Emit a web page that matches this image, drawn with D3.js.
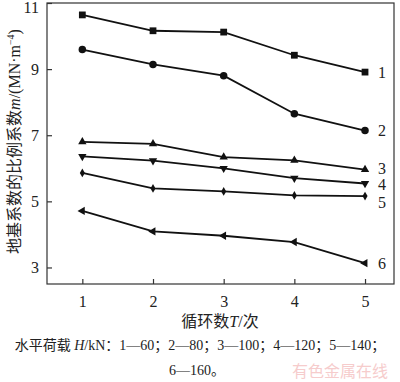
<!DOCTYPE html>
<html>
<head>
<meta charset="utf-8">
<script src="https://cdn.jsdelivr.net/npm/d3@7"></script>
<style>
body { margin: 0; background: #fff; }
text { font-family: "Liberation Serif", "Noto Sans CJK SC", serif; fill: #222; }
</style>
</head>
<body>
<script>
// cycles on the x axis
var cycles = [1, 2, 3, 4, 5];
// m values per load level
var s1 = [10.64, 10.16, 10.12, 9.42, 8.91];
var s2 = [9.59, 9.14, 8.80, 7.65, 7.14];
var s3 = [6.80, 6.74, 6.34, 6.24, 5.96];
var s4 = [6.36, 6.23, 6.00, 5.70, 5.54];
var s5 = [5.86, 5.39, 5.30, 5.18, 5.16];
var s6 = [4.71, 4.09, 3.96, 3.77, 3.13];
var seriesNames = ["1", "2", "3", "4", "5", "6"];
var yTicks = [3, 5, 7, 9, 11];

var W = 400, H = 382;
var padL = 47, padR = 394, padT = 3, padB = 284;		// plot frame edges

var svg = d3.select("body").append("svg")
	.attr("width", W)
	.attr("height", H);

var x = d3.scaleLinear().domain([0.5, 5.41]).range([padL, padR]);
var y = d3.scaleLinear().domain([2.5, 11]).range([padB, padT]);

// frame
svg.append("rect")
	.attr("x", padL).attr("y", padT)
	.attr("width", padR - padL).attr("height", padB - padT)
	.attr("fill", "none").attr("stroke", "#333").attr("stroke-width", 1.2);

var xAxis = svg.append("g")
	.attr("transform", "translate(0," + padB + ")")
	.call(d3.axisBottom(x).tickValues(cycles).tickSize(-5).tickPadding(12).tickFormat(d3.format("d")));
xAxis.select(".domain").remove();
xAxis.selectAll("line").attr("stroke", "#333").attr("stroke-width", 1.2);
xAxis.selectAll("text").style("font-size", "16px").attr("fill", "#222");

var yAxis = svg.append("g")
	.attr("transform", "translate(" + padL + ",0)")
	.call(d3.axisLeft(y).tickValues(yTicks).tickSize(-5).tickPadding(8));
yAxis.select(".domain").remove();
yAxis.selectAll("line").attr("stroke", "#333").attr("stroke-width", 1.2);
yAxis.selectAll("text").style("font-size", "16px").attr("fill", "#222")
	.attr("dy", function(d){ return d == 11 ? "0.62em" : "0.32em"; });

var all = [s1, s2, s3, s4, s5, s6];
var line = d3.line()
	.x(function(d, i){ return x(cycles[i]); })
	.y(function(d){ return y(d); });

var symbols = [
	d3.symbol().type(d3.symbolSquare).size(46),
	d3.symbol().type(d3.symbolCircle).size(44),
	d3.symbol().type(d3.symbolTriangle).size(30),
	d3.symbol().type(d3.symbolTriangle).size(30),
	d3.symbol().type(d3.symbolDiamond).size(22),
	d3.symbol().type(d3.symbolTriangle).size(30)
];
var rotate = [0, 0, 0, 180, 0, -90];
var labelShift = [0, 0, -1, 1, 6, 0];

all.forEach(function(s, k){
	svg.append("path")
		.attr("d", line(s))
		.attr("fill", "none")
		.attr("stroke", "#111")
		.attr("stroke-width", 1.8);

	svg.selectAll(".m" + k)
		.data(s)
	.enter().append("path")
		.attr("class", "m" + k)
		.attr("d", symbols[k])
		.attr("fill", "#111")
		.attr("transform", function(d, i){
			return "translate(" + x(cycles[i]) + "," + y(d) + ") rotate(" + rotate[k] + ")";
		});

	svg.append("text")
		.attr("x", x(5) + 13)
		.attr("y", y(s[4]) + 5.5 + labelShift[k])
		.style("font-size", "16px")
		.text(seriesNames[k]);
});

// y axis title
var yt = svg.append("text")
	.attr("transform", "translate(20," + ((padT + padB) / 2 - 2) + ") rotate(-90)")
	.attr("text-anchor", "middle")
	.style("font-size", "16px");
yt.append("tspan").text("地基系数的比例系数");
yt.append("tspan").style("font-style", "italic").text("m");
yt.append("tspan").text("/(MN·m");
yt.append("tspan").attr("dy", -6).style("font-size", "10px").text("−4");
yt.append("tspan").attr("dy", 6).text(")");

// x axis title
var xt = svg.append("text")
	.attr("x", 220).attr("y", 327)
	.attr("text-anchor", "middle")
	.style("font-size", "16px");
xt.append("tspan").text("循环数");
xt.append("tspan").style("font-style", "italic").text("T");
xt.append("tspan").text("/次");

// caption
var cap = svg.append("text")
	.attr("x", 200).attr("y", 350)
	.attr("text-anchor", "middle")
	.style("font-size", "14px");
cap.append("tspan").text("水平荷载 ");
cap.append("tspan").style("font-style", "italic").text("H");
cap.append("tspan").text("/kN：1—60；2—80；3—100；4—120；5—140；");

svg.append("text")
	.attr("x", 197).attr("y", 375)
	.attr("text-anchor", "middle")
	.style("font-size", "14px")
	.text("6—160。");

// watermark
svg.append("text")
	.attr("x", 340).attr("y", 377)
	.attr("text-anchor", "middle")
	.style("font-size", "16px")
	.style("font-family", "Noto Sans CJK SC")
	.style("fill", "#f6cccc")
	.text("有色金属在线");
</script>
</body>
</html>
